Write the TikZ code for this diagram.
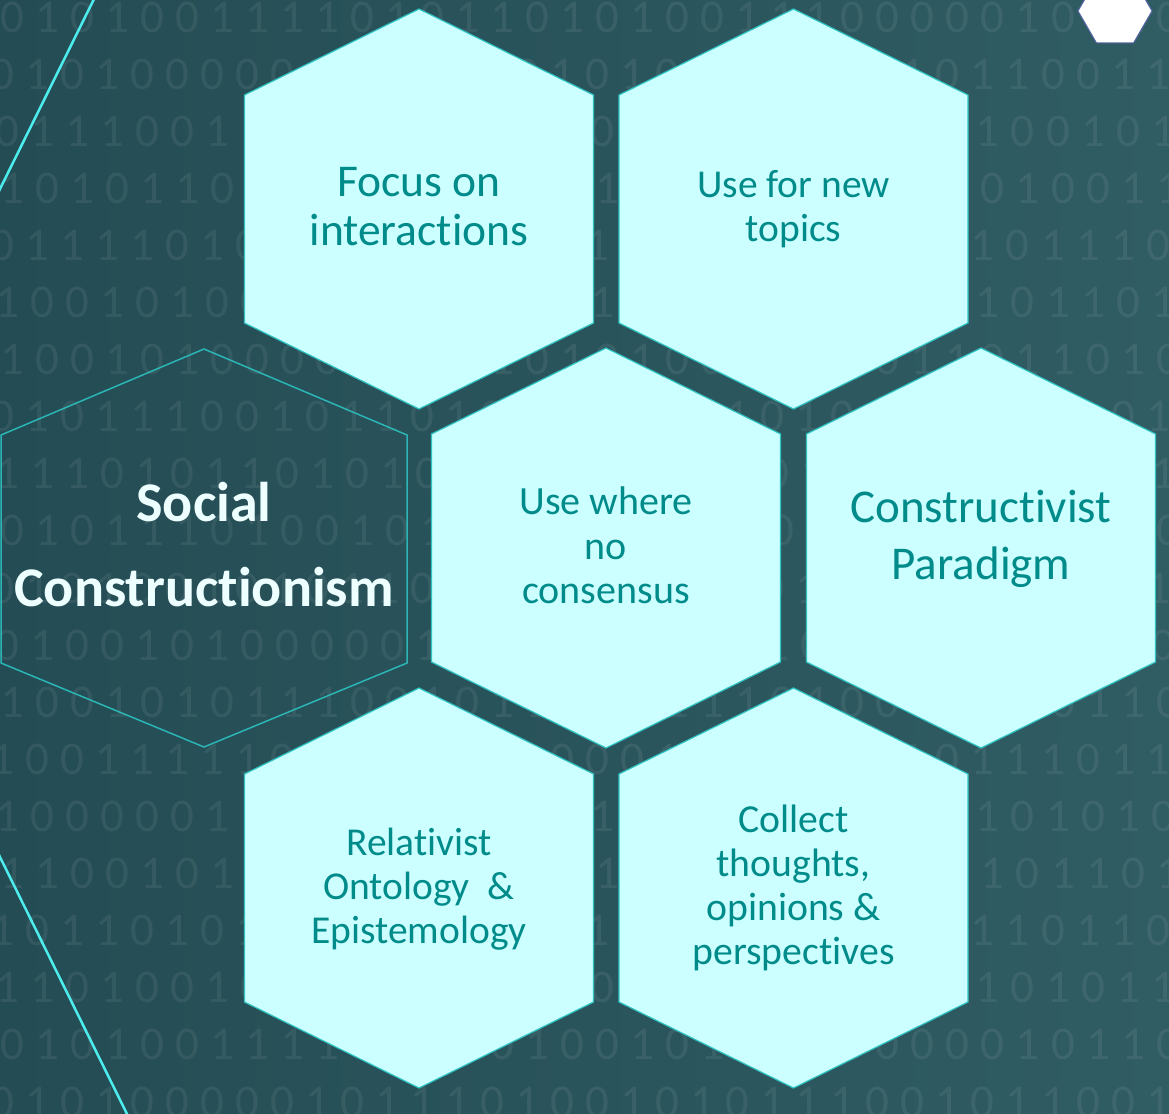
\documentclass[tikz,border=0pt]{standalone}
\usepackage{fontspec}
\setmainfont[Ligatures=NoCommon]{Carlito}
\usepackage{tikz}

\definecolor{bgleft}{HTML}{244C54}
\definecolor{bgright}{HTML}{305C63}
\definecolor{hexfill}{HTML}{CCFFFF}
\definecolor{hexline}{HTML}{2EC4C4}
\definecolor{hextext}{HTML}{008B8B}
\definecolor{accent}{HTML}{4EEDED}
\definecolor{rim}{HTML}{2CB5B5}
\definecolor{socialtext}{HTML}{EEFFFF}
\definecolor{cornerrim}{HTML}{5566A8}

\newcommand\bitrow[1]{\bitstep#1\relax}
\def\bitstep#1{\ifx\relax#1\else\makebox[35pt]{#1}\expandafter\bitstep\fi}

\begin{document}
\begin{tikzpicture}[x=1pt,y=-1pt,
	cell/.style={fill=hexfill,draw=hexline,line width=1.2pt},
	hextxt/.style={text=hextext,align=center,inner sep=0pt},
	bits/.style={text=white,text opacity=0.07,inner sep=0pt,anchor=west,font=\fontsize{47}{47}\selectfont}]
	\newcommand\Hex{+(0,-200) -- +(174.5,-114) -- +(174.5,114) -- +(0,200) -- +(-174.5,114) -- +(-174.5,-114) -- cycle}
	\newcommand\BigHex{+(0,-199) -- +(203,-113) -- +(203,115) -- +(0,199) -- +(-203,115) -- +(-203,-113) -- cycle}
	\newcommand\Corner{+(37,0) -- +(18.5,32) -- +(-18.5,32) -- +(-37,0) -- +(-18.5,-32) -- +(18.5,-32) -- cycle}

	\useasboundingbox (0,0) rectangle (1169,1113);
	\shade[left color=bgleft,right color=bgright] (0,0) rectangle (1169,1113);
	\clip (0,0) rectangle (1169,1113);

	\foreach \off/\row [count=\k from 0] in {
		-5/0101001111010110101001110000010110,
		-15/0101000000110100101001000010110011,
		-10/0111001101001011100101010100100101,
		-5/1010110110010010110101101101010011,
		-15/0111101010110100110001001111101110,
		-10/1001010011010110010110101000101101,
		-5/1001010000010110101001011011011010,
		-15/0101110010110101011101010100110101,
		-10/1110101101010011010111010101101001,
		-5/0101110100101101100101011101010110,
		-15/0101001010110101101011010110101011,
		-10/0100101000001011010100101101001010,
		-5/1001010111001011010111010010110110,
		-15/1001111100101101000101011110111011,
		-10/1000001101001011010110100100101010,
		-5/1100101101101001011010010100101101,
		-15/1011010101101010110100101010110110,
		-10/1101001011010110101001011101101011,
		-5/0101001111010101001010110000010110,
		-15/0101000001011101001010111001011001}
		\node[bits] (bits\k) at (\off,{17+57.1*\k}) {\expandafter\bitrow\expandafter{\row}};

	\draw[accent,line width=2.5pt] (95,-3) -- (-2,193);
	\draw[accent,line width=2.5pt] (-2,853) -- (128,1116);

	\draw[fill=white,draw=cornerrim,line width=1pt] (1115,11) \Corner;

	\draw[cell] (419,209) \Hex;
	\draw[cell] (793.5,209) \Hex;
	\draw[rim,line width=1.5pt] (204,548) \BigHex;
	\draw[cell] (606,548) \Hex;
	\draw[cell] (981,548) \Hex;
	\draw[cell] (419,888) \Hex;
	\draw[cell] (793.5,888) \Hex;

	\node[hextxt,font=\fontsize{45.5}{49}\selectfont] (focus) at (419,206.5) {Focus on\\interactions};
	\node[hextxt,font=\fontsize{39.5}{44}\selectfont] (newtopics) at (793.5,209) {Use for new\\topics};
	\node[text=socialtext,align=center,inner sep=0pt,font=\bfseries\fontsize{56}{85}\selectfont] (social) at (204,545) {Social\\Constructionism};
	\node[hextxt,font=\fontsize{40}{44.5}\selectfont] (consensus) at (606,545.5) {Use where\\no\\consensus};
	\node[hextxt,font=\fontsize{47}{57}\selectfont] (paradigm) at (981,538.7) {Constructivist\\Paradigm};
	\node[hextxt,font=\fontsize{39.5}{44}\selectfont] (ontology) at (419,889.5) {Relativist\\Ontology\ \ \&\\Epistemology};
	\node[hextxt,font=\fontsize{39.7}{44}\selectfont] (collect) at (793.5,887.5) {Collect\\thoughts,\\opinions \&\\perspectives};
\end{tikzpicture}
\end{document}
